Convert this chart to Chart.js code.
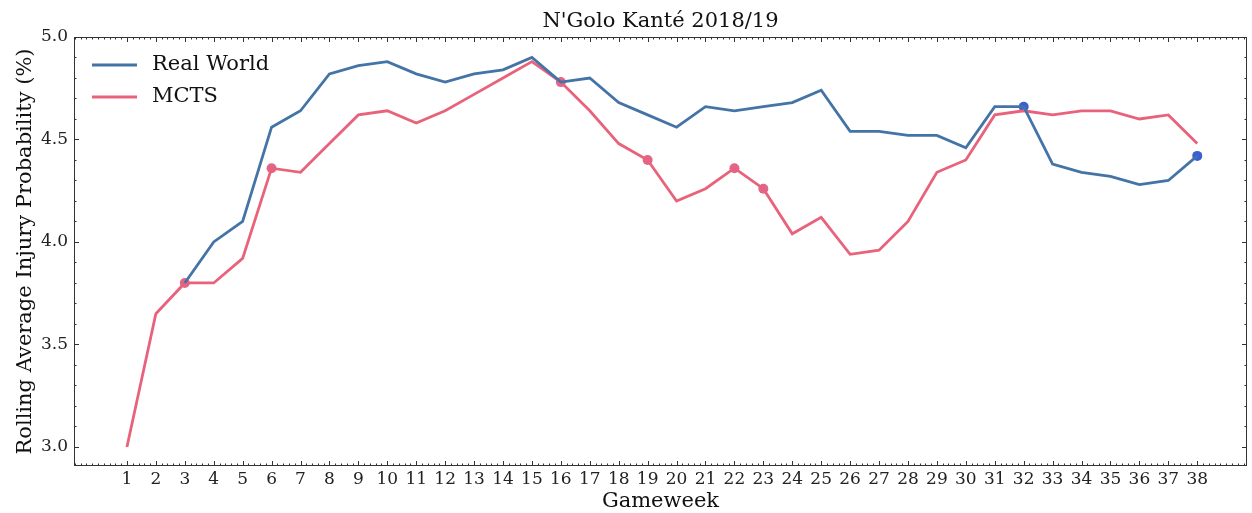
<!DOCTYPE html>
<html>
<head>
<meta charset="utf-8">
<script src="https://cdn.jsdelivr.net/npm/chart.js@4.4.1/dist/chart.umd.min.js"></script>
<style>
  html, body { margin: 0; padding: 0; background: #fff; }
  #wrap { width: 1252px; height: 513px; position: relative; }
</style>
</head>
<body>
<div id="wrap"><canvas id="chart"></canvas></div>
<script>
// gameweeks 1..38
var gameweeks = [1,2,3,4,5,6,7,8,9,10,11,12,13,14,15,16,17,18,19,20,21,22,23,24,25,26,27,28,29,30,31,32,33,34,35,36,37,38];
var realWorld = [null,null,3.80,4.00,4.10,4.56,4.64,4.82,4.86,4.88,4.82,4.78,4.82,4.84,4.90,4.78,4.80,4.68,4.62,4.56,
                 4.66,4.64,4.66,4.68,4.74,4.54,4.54,4.52,4.52,4.46,4.66,4.66,4.38,4.34,4.32,4.28,4.30,4.42];
var mcts = [3.00,3.65,3.80,3.80,3.92,4.36,4.34,4.48,4.62,4.64,4.58,4.64,4.72,4.80,4.88,4.78,4.64,4.48,4.40,4.20,
            4.26,4.36,4.26,4.04,4.12,3.94,3.96,4.10,4.34,4.40,4.62,4.64,4.62,4.64,4.64,4.60,4.62,4.48];
var mctsMarked = [3,6,16,19,22,23];
var realMarked = [32,38];
var yTicks = [3.0,3.5,4.0,4.5,5.0];

var BLUE = '#4473a6', RED = '#e9627b', BLUE_DOT = '#3a5fd2', RED_DOT = '#e0678a';
var SERIF = "'DejaVu Serif', serif";
var TITLE = "N'Golo Kanté 2018/19";

function points(values) {
  return gameweeks.map(function (gw, i) { return { x: gw, y: values[i] }; });
}
function marked(values, weeks) {
  return weeks.map(function (gw) { return { x: gw, y: values[gameweeks.indexOf(gw)] }; });
}

// matplotlib style frame with inward ticks on all four sides, title over the axes, legend inside
var framePlugin = {
  id: 'frame',
  afterDatasetsDraw: function (chart) {
    var ctx = chart.ctx, a = chart.chartArea;
    var xs = chart.scales.x, ys = chart.scales.y;
    ctx.save();
    ctx.strokeStyle = '#333';
    ctx.lineWidth = 1;
    ctx.strokeRect(a.left + 0.5, a.top + 0.5, a.right - a.left - 1, a.bottom - a.top - 1);
    ctx.beginPath();
    var v, px, len;
    for (v = Math.ceil(xs.min * 5); v <= xs.max * 5; v++) {
      px = Math.round(xs.getPixelForValue(v / 5)) + 0.5;
      len = (v % 5 === 0 && v >= 5 && v <= 190) ? 5 : 2.5;
      ctx.moveTo(px, a.bottom); ctx.lineTo(px, a.bottom - len);
      ctx.moveTo(px, a.top); ctx.lineTo(px, a.top + len);
    }
    for (v = Math.ceil(ys.min * 10); v <= ys.max * 10 + 0.001; v++) {
      px = Math.round(ys.getPixelForValue(v / 10)) + 0.5;
      len = (v % 5 === 0) ? 5 : 2.5;
      ctx.moveTo(a.left, px); ctx.lineTo(a.left + len, px);
      ctx.moveTo(a.right, px); ctx.lineTo(a.right - len, px);
    }
    ctx.stroke();

    ctx.fillStyle = '#111';
    ctx.font = '21px ' + SERIF;
    ctx.textAlign = 'center';
    ctx.textBaseline = 'middle';
    ctx.fillText(TITLE, (a.left + a.right) / 2, a.top - 15);

    var items = [['Real World', BLUE], ['MCTS', RED]];
    ctx.textAlign = 'left';
    items.forEach(function (it, i) {
      var y = a.top + 28 + i * 32;
      ctx.strokeStyle = it[1];
      ctx.lineWidth = 2.8;
      ctx.beginPath();
      ctx.moveTo(a.left + 18, y); ctx.lineTo(a.left + 63, y);
      ctx.stroke();
      ctx.fillStyle = '#111';
      ctx.fillText(it[0], a.left + 78, y);
    });
    ctx.restore();
  }
};

new Chart(document.getElementById('chart'), {
  type: 'line',
  data: {
    datasets: [
      { label: 'Real World', data: points(realWorld), borderColor: BLUE, borderWidth: 2.8, pointRadius: 0, tension: 0 },
      { label: 'MCTS', data: points(mcts), borderColor: RED, borderWidth: 2.8, pointRadius: 0, tension: 0 },
      { label: 'mcts-marks', data: marked(mcts, mctsMarked), showLine: false, pointRadius: 5,
        pointBackgroundColor: RED_DOT, pointBorderColor: RED_DOT, pointBorderWidth: 0 },
      { label: 'real-marks', data: marked(realWorld, realMarked), showLine: false, pointRadius: 5,
        pointBackgroundColor: BLUE_DOT, pointBorderColor: BLUE_DOT, pointBorderWidth: 0 }
    ]
  },
  options: {
    responsive: true,
    maintainAspectRatio: false,
    animation: false,
    layout: { padding: { top: 37, right: 2, bottom: 0, left: 0 } },
    plugins: {
      legend: { display: false },
      tooltip: { enabled: false }
    },
    scales: {
      x: {
        type: 'linear',
        min: -0.83,
        max: 39.72,
        afterBuildTicks: function (s) { s.ticks = gameweeks.map(function (g) { return { value: g }; }); },
        afterFit: function (s) { s.height = 47; s.paddingRight = 0; s.paddingLeft = 0; },
        grid: { display: false, tickLength: 0 },
        border: { display: false },
        ticks: { autoSkip: false, maxRotation: 0, color: '#222', padding: 3,
                 font: { family: SERIF, size: 17 } },
        title: { display: true, text: 'Gameweek', color: '#111', padding: { top: 0, bottom: -1 },
                 font: { family: SERIF, size: 21 } }
      },
      y: {
        min: 2.907,
        max: 5.0,
        afterBuildTicks: function (s) { s.ticks = yTicks.map(function (v) { return { value: v }; }); },
        afterFit: function (s) { s.width = 74; },
        grid: { display: false, tickLength: 0 },
        border: { display: false },
        ticks: { color: '#222', padding: 6, font: { family: SERIF, size: 17 },
                 callback: function (v) { return v.toFixed(1); } },
        title: { display: true, text: 'Rolling Average Injury Probability (%)', color: '#111',
                 padding: { top: 13, bottom: 0 }, font: { family: SERIF, size: 21 } }
      }
    }
  },
  plugins: [framePlugin]
});
</script>
</body>
</html>
